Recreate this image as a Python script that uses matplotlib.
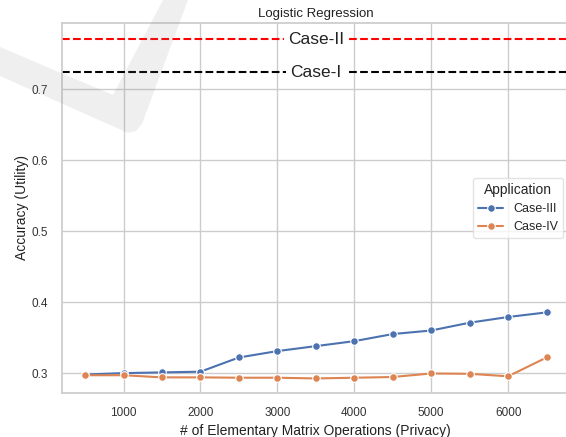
#!/usr/bin/env python3
import matplotlib
matplotlib.use("Agg")
import matplotlib.pyplot as plt
import seaborn as sns
from matplotlib.patches import Polygon

# number of elementary matrix operations
ops = [500, 1000, 1500, 2000, 2500, 3000, 3500, 4000, 4500, 5000, 5500, 6000, 6500]
case3 = [0.298, 0.300, 0.301, 0.302, 0.322, 0.331, 0.338, 0.345, 0.355, 0.360, 0.371, 0.379, 0.3855]
case4 = [0.297, 0.297, 0.294, 0.294, 0.2935, 0.2935, 0.2925, 0.2935, 0.2945, 0.2995, 0.299, 0.2955, 0.322]

# reference accuracies
case1 = 0.7235
case2 = 0.770

sns.set_theme(style="whitegrid")
plt.rcParams["font.family"] = ["Liberation Sans", "DejaVu Sans"]

fig = plt.figure(figsize=(5.66, 4.37), dpi=100)
ax = fig.add_axes([0.1095, 0.1007, 0.897, 0.8467])

pal = sns.color_palette()
ax.plot(ops, case3, marker="o", color=pal[0], lw=1.5, ms=5.5,
        mec="white", mew=0.8, label="Case-III")
ax.plot(ops, case4, marker="o", color=pal[1], lw=1.5, ms=5.5,
        mec="white", mew=0.8, label="Case-IV")

ax.axhline(case2, color="red", ls="--", lw=1.5)
ax.axhline(case1, color="black", ls="--", lw=1.5)
ax.text(3500, case2, "Case-II", ha="center", va="center", fontsize=12.5,
        color="#222222", bbox=dict(facecolor="white", edgecolor="none", pad=3))
ax.text(3500, case1, "Case-I", ha="center", va="center", fontsize=12.5,
        color="#222222", bbox=dict(facecolor="white", edgecolor="none", pad=3))

ax.set_xlim(200, 6800)
ax.set_ylim(0.272, 0.793)
ax.set_xticks([1000, 2000, 3000, 4000, 5000, 6000])
ax.set_yticks([0.3, 0.4, 0.5, 0.6, 0.7])
ax.tick_params(labelsize=8.5, colors="#333333", pad=4)
ax.set_xlabel("# of Elementary Matrix Operations (Privacy)", fontsize=10, color="#222222")
ax.set_ylabel("Accuracy (Utility)", fontsize=10, color="#222222", labelpad=2)
ax.set_title("Logistic Regression", fontsize=9.5, color="#222222", pad=4)

leg = ax.legend(title="Application", loc="center right", fontsize=9,
                title_fontsize=10, frameon=True)
leg.get_frame().set_edgecolor("#dddddd")

# faint check-mark stamp across the upper left
W, H = 566, 437
mark = [(0, 47), (113, 95), (163, 0), (188, 0), (142, 124), (136, 131),
        (128, 133), (0, 76)]
fig.patches.append(Polygon([(x / W, 1 - y / H) for x, y in mark], closed=True,
                           transform=fig.transFigure, facecolor="0.5",
                           edgecolor="none", alpha=0.12, zorder=10))

fig.savefig("out.png", dpi=100)
